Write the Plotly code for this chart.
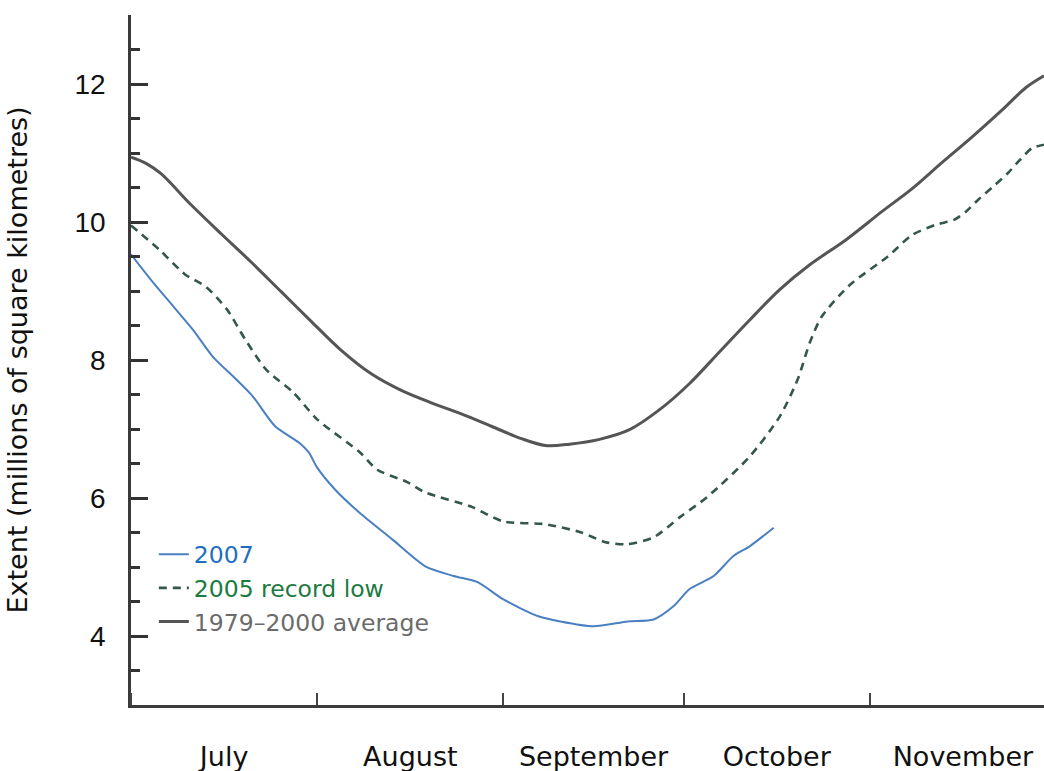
import pandas as pd
import plotly.graph_objects as go

# ---- data (days after 1 July, extent in millions of km²) ----
avg_days = [0, 2.5, 5, 10, 15, 20, 25, 30, 35, 40, 45, 50, 55, 60, 65, 69, 73, 78, 83, 88, 93,
            98, 103, 108, 113, 119, 125, 130, 135, 140, 145, 149, 152]
avg_vals = [10.94, 10.85, 10.70, 10.25, 9.83, 9.42, 8.99, 8.56, 8.14, 7.80, 7.56, 7.38, 7.22,
            7.04, 6.86, 6.76, 6.78, 6.85, 6.99, 7.28, 7.66, 8.12, 8.58, 9.02, 9.38, 9.74,
            10.15, 10.48, 10.86, 11.23, 11.62, 11.95, 12.12]

low05_days = [0, 4.7, 9, 12.5, 16, 19, 22.5, 27, 31, 38, 41, 46, 49, 56.5, 62, 69, 75, 79,
              82.5, 87, 91.5, 96, 103, 108, 111, 113, 115, 119.7, 126, 130, 134, 137, 139,
              141, 143.5, 146, 148, 150, 152]
low05_vals = [9.95, 9.60, 9.24, 9.06, 8.73, 8.30, 7.86, 7.53, 7.14, 6.67, 6.41, 6.23, 6.08,
              5.88, 5.66, 5.62, 5.50, 5.36, 5.33, 5.43, 5.73, 6.02, 6.60, 7.18, 7.72, 8.25,
              8.63, 9.09, 9.50, 9.81, 9.96, 10.03, 10.15, 10.32, 10.51, 10.71, 10.90, 11.07,
              11.12]

y07_days = [0, 3.7, 7.5, 10.3, 13.6, 17.5, 20.3, 24, 28, 29.6, 31, 34, 38, 43.5, 49, 53.7,
            57.7, 62, 67.7, 71.5, 77, 82.7, 87, 90.3, 93, 97, 100.3, 103, 107]
y07_vals = [9.53, 9.12, 8.73, 8.44, 8.05, 7.72, 7.47, 7.04, 6.80, 6.66, 6.44, 6.12, 5.79,
            5.40, 5.01, 4.87, 4.78, 4.53, 4.29, 4.21, 4.14, 4.21, 4.24, 4.43, 4.68, 4.87,
            5.16, 5.30, 5.57]

start = pd.Timestamp("2007-07-01")
def to_dates(days):
    return [start + pd.Timedelta(hours=d * 24) for d in days]

FONT = "DejaVu Sans"
FONT_Y = "Liberation Sans"

fig = go.Figure()
fig.add_trace(go.Scatter(
    x=to_dates(y07_days), y=y07_vals, mode="lines",
    name="<span style='color:#1f6fbf'>2007</span>",
    line=dict(color="#4a80c2", width=2, shape="spline", smoothing=0.7)))
fig.add_trace(go.Scatter(
    x=to_dates(low05_days), y=low05_vals, mode="lines",
    name="<span style='color:#1b7a3e'>2005 record low</span>",
    line=dict(color="#33574a", width=2.6, dash="8px,6px", shape="spline", smoothing=0.7)))
fig.add_trace(go.Scatter(
    x=to_dates(avg_days), y=avg_vals, mode="lines",
    name="<span style='color:#6b6b6b'>1979–2000 average</span>",
    line=dict(color="#555555", width=3, shape="spline", smoothing=0.9)))

fig.update_layout(
    width=1044, height=771,
    margin=dict(l=131, r=0, t=15, b=66),
    paper_bgcolor="white", plot_bgcolor="white",
    font=dict(family=FONT, size=24, color="#111111"),
    showlegend=True,
    legend=dict(x=0.025, y=0.25, xanchor="left", yanchor="top",
                bgcolor="rgba(0,0,0,0)", font=dict(family=FONT, size=23.5),
                itemwidth=30, tracegroupgap=0),
)

fig.update_xaxes(
    type="date", automargin=False,
    range=["2007-07-01", "2007-11-30"],
    dtick="M1", tick0="2007-07-01", tickformat="%B", ticklabelmode="period",
    ticks="inside", ticklen=12, tickwidth=2, tickcolor="#444444",
    showline=True, linecolor="#3a3a3a", linewidth=2.5,
    showgrid=False, zeroline=False,
    tickfont=dict(family=FONT, size=27, color="#111111"),
    ticklabelstandoff=26,
)

fig.update_yaxes(
    range=[3, 13], automargin=False,
    tickvals=[4, 6, 8, 10, 12],
    ticks="inside", ticklen=17, tickwidth=2.5, tickcolor="#333333",
    minor=dict(dtick=0.5, tick0=0, ticks="inside", ticklen=9, tickwidth=2.5,
               tickcolor="#333333", showgrid=False),
    showline=True, linecolor="#3a3a3a", linewidth=2.5,
    showgrid=False, zeroline=False,
    tickfont=dict(family=FONT_Y, size=28, color="#111111"),
    ticklabelstandoff=17,
    title=dict(text="Extent (millions of square kilometres)",
               font=dict(family=FONT, size=27, color="#111111"), standoff=40),
)

fig.write_html(
    "out.html",
    config={"displayModeBar": False},
    post_script="document.body.style.margin='0';document.body.style.overflow='hidden';",
)
